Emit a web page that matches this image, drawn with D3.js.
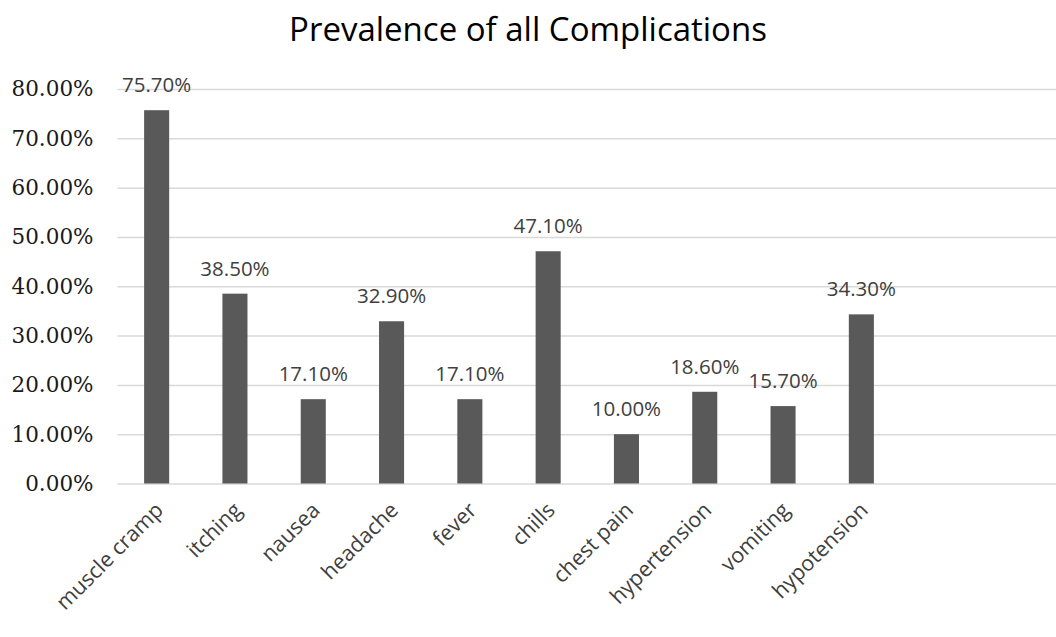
<!DOCTYPE html>
<html>
<head>
<meta charset="utf-8">
<script src="https://cdn.jsdelivr.net/npm/d3@7"></script>
<style>
  html, body { margin: 0; padding: 0; background: #ffffff; }
  svg { display: block; }
</style>
</head>
<body>
<svg id="chart" width="1056" height="637"></svg>
<script>
// Complication categories and their prevalence (fraction of patients)
const categories = ["muscle cramp", "itching", "nausea", "headache", "fever",
                    "chills", "chest pain", "hypertension", "vomiting", "hypotension"];
const prevalence = [0.757, 0.385, 0.171, 0.329, 0.171, 0.471, 0.100, 0.186, 0.157, 0.343];
const yTicks = [0, 0.1, 0.2, 0.3, 0.4, 0.5, 0.6, 0.7, 0.8];
const titleText = "Prevalence of all Complications";

const W = 1056, H = 637;
const plotLeft = 117.5, plotRight = 1056;
const plotTop = 89, plotBottom = 483.5;
const step = 78.3;

const svg = d3.select("#chart");

const x = d3.scaleBand()
  .domain(categories)
  .range([plotLeft, plotLeft + step * categories.length])
  .paddingInner(0.68)
  .paddingOuter(0.34);

const y = d3.scaleLinear()
  .domain([0, 0.8])
  .range([plotBottom, plotTop]);

const fmt = d3.format(".2%");

// Title
svg.append("text")
  .attr("x", 528)
  .attr("y", 41)
  .attr("text-anchor", "middle")
  .attr("font-family", "'Open Sans', sans-serif")
  .attr("font-size", 33)
  .attr("fill", "#000000")
  .text(titleText);

// Horizontal gridlines with y-axis labels
const yAxis = d3.axisLeft(y)
  .tickValues(yTicks)
  .tickFormat(fmt)
  .tickSize(-(plotRight - plotLeft))
  .tickPadding(24);

const gy = svg.append("g")
  .attr("transform", `translate(${plotLeft},0)`)
  .call(yAxis);
gy.select(".domain").remove();
gy.selectAll(".tick line")
  .attr("stroke", "#d9d9d9")
  .attr("stroke-width", 1.5);
gy.selectAll(".tick text")
  .attr("font-family", "'DejaVu Serif', serif")
  .attr("font-size", 21.5)
  .attr("fill", "#1a1a1a");

// Bars
svg.append("g")
  .selectAll("rect")
  .data(categories)
  .join("rect")
  .attr("x", d => x(d))
  .attr("y", (d, i) => y(prevalence[i]))
  .attr("width", x.bandwidth())
  .attr("height", (d, i) => y(0) - y(prevalence[i]))
  .attr("fill", "#595959");

// Value labels above bars
svg.append("g")
  .selectAll("text")
  .data(categories)
  .join("text")
  .attr("x", d => x(d) + x.bandwidth() / 2)
  .attr("y", (d, i) => y(prevalence[i]) - 18)
  .attr("text-anchor", "middle")
  .attr("font-family", "'Open Sans', sans-serif")
  .attr("font-size", 20.5)
  .attr("fill", "#404040")
  .text((d, i) => fmt(prevalence[i]));

// Category axis labels, rotated
const xAxis = d3.axisBottom(x).tickSize(0).tickPadding(0);
const gx = svg.append("g")
  .attr("transform", `translate(0,${plotBottom})`)
  .call(xAxis);
gx.select(".domain").remove();
gx.selectAll(".tick text")
  .attr("font-family", "'Open Sans', sans-serif")
  .attr("font-size", 21.5)
  .attr("fill", "#404040")
  .attr("text-anchor", "end")
  .attr("dy", 0)
  .attr("y", 0)
  .attr("transform", "translate(8,28) rotate(-45)");
</script>
</body>
</html>
